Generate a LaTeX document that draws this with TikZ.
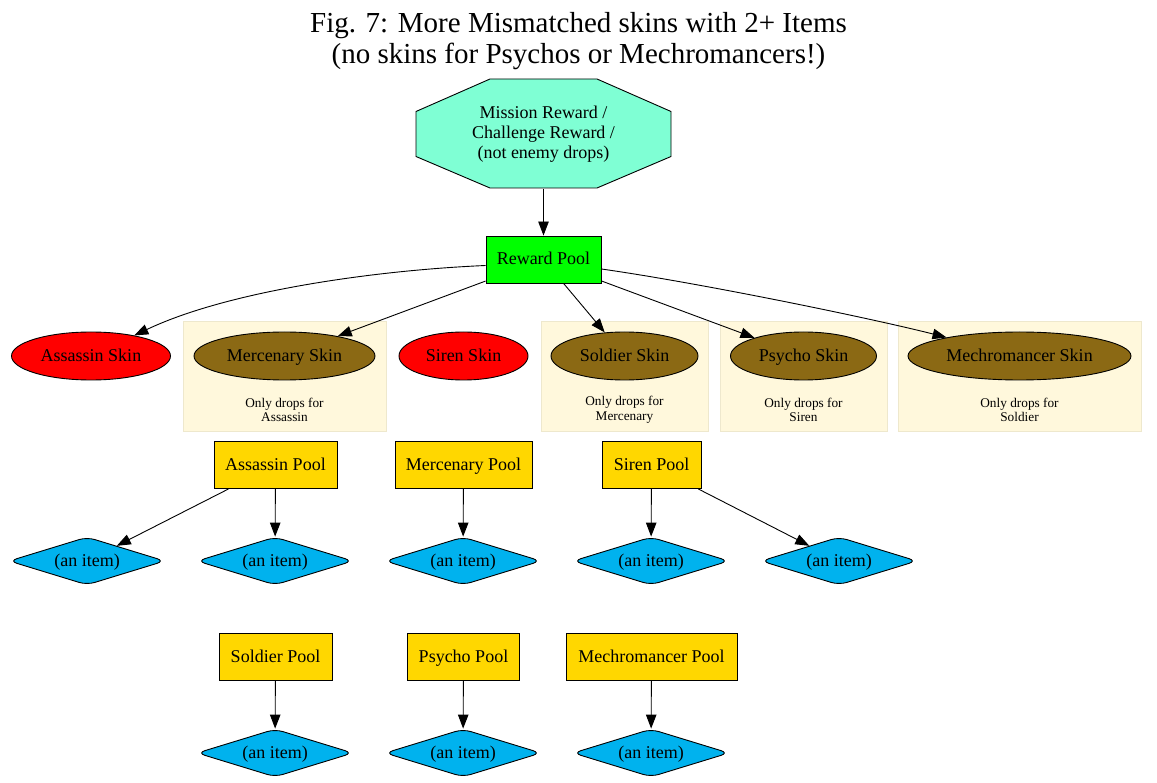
\documentclass[tikz,border=0pt]{standalone}
\usepackage{fontspec}
\setmainfont{Liberation Serif}
\usetikzlibrary{shapes.geometric,arrows.meta,calc}
\definecolor{aquam}{HTML}{7FFFD4}
\definecolor{rwgreen}{HTML}{00FF00}
\definecolor{skinred}{HTML}{FF0000}
\definecolor{skinbrown}{HTML}{8B6914}
\definecolor{poolgold}{HTML}{FFD700}
\definecolor{itemblue}{HTML}{00B2EE}
\definecolor{clfill}{HTML}{FFF8DC}
\definecolor{cldraw}{HTML}{EEE8CD}
\begin{document}
\begin{tikzpicture}[x=1pt,y=-1pt,
  base/.style={font=\fontsize{18}{20}\selectfont, draw=black, line width=0.9pt, inner sep=0pt, align=center, text height=13pt, text depth=2pt},
  skinbox/.style={base, ellipse, minimum height=48},
  poolbox/.style={base, rectangle, fill=poolgold, minimum height=47},
  itembox/.style={base, diamond, aspect=3.3, minimum width=156, minimum height=48, fill=itemblue, rounded corners=8pt},
  clusterbox/.style={fill=clfill, draw=cldraw, line width=0.9pt},
  smalltext/.style={font=\fontsize{13.3}{14.5}\selectfont, align=center, inner sep=0pt},
  arr/.style={-{Triangle[length=14pt,width=10.5pt]}, line width=0.9pt}
]
\useasboundingbox (0,0) rectangle (1157,783);

% title
\node[font=\fontsize{29}{31}\selectfont, align=center, inner sep=0pt] (title) at (578.5,41)
  {Fig. 7: More Mismatched skins with 2+ Items\\(no skins for Psychos or Mechromancers!)};

% octagon
\coordinate (mc) at (543.5,133.5);
\filldraw[fill=aquam, draw=black, line width=0.9pt]
  ($(mc)+(-53.5,-54.5)$) -- ($(mc)+(53.5,-54.5)$) -- ($(mc)+(127.5,-22)$) -- ($(mc)+(127.5,23)$)
  -- ($(mc)+(53.5,54.5)$) -- ($(mc)+(-53.5,54.5)$) -- ($(mc)+(-127.5,23)$) -- ($(mc)+(-127.5,-22)$) -- cycle;
\node[font=\fontsize{18}{20}\selectfont, align=center, inner sep=0pt, minimum width=255, minimum height=109] (mission) at ($(mc)+(0,1)$)
  {Mission Reward /\\Challenge Reward /\\(not enemy drops)};

% reward pool
\node[base, rectangle, fill=rwgreen, minimum width=115, minimum height=47] (reward) at (543.5,259.5) {Reward Pool};

% clusters
\draw[clusterbox] (183,321) rectangle (386,431);
\draw[clusterbox] (541,321) rectangle (708,431);
\draw[clusterbox] (720,321) rectangle (887,431);
\draw[clusterbox] (898,321) rectangle (1141,431);
\node[smalltext] (lmerc) at (284.5,410) {Only drops for\\Assassin};
\node[smalltext] (lsold) at (624.5,410) {Only drops for\\Mercenary};
\node[smalltext] (lpsy) at (803.5,410) {Only drops for\\Siren};
\node[smalltext] (lmech) at (1019.5,410) {Only drops for\\Soldier};

% skins
\node[skinbox, fill=skinred, minimum width=159] (askin) at (91,356) {Assassin Skin};
\node[skinbox, fill=skinbrown, minimum width=181] (mskin) at (284.5,356) {Mercenary Skin};
\node[skinbox, fill=skinred, minimum width=129] (sskin) at (463.5,356) {Siren Skin};
\node[skinbox, fill=skinbrown, minimum width=147] (soskin) at (624.5,356) {Soldier Skin};
\node[skinbox, fill=skinbrown, minimum width=146] (pskin) at (803.5,356) {Psycho Skin};
\node[skinbox, fill=skinbrown, minimum width=223] (meskin) at (1019.5,356) {Mechromancer Skin};

% pools
\node[poolbox, minimum width=123] (apool) at (275.5,465) {Assassin Pool};
\node[poolbox, minimum width=137] (mpool) at (463.5,465) {Mercenary Pool};
\node[poolbox, minimum width=99] (spool) at (651.5,465) {Siren Pool};
\node[poolbox, minimum width=113] (sopool) at (275.5,657) {Soldier Pool};
\node[poolbox, minimum width=112] (ppool) at (463.5,657) {Psycho Pool};
\node[poolbox, minimum width=171] (mepool) at (651.5,657) {Mechromancer Pool};

% items
\node[itembox] (i1) at (87,561) {(an item)};
\node[itembox] (i2) at (275,561) {(an item)};
\node[itembox] (i3) at (463,561) {(an item)};
\node[itembox] (i4) at (651,561) {(an item)};
\node[itembox] (i5) at (839,561) {(an item)};
\node[itembox] (i6) at (275,753) {(an item)};
\node[itembox] (i7) at (463,753) {(an item)};
\node[itembox] (i8) at (651,753) {(an item)};

% edges
\draw[arr] (mission) -- (reward);
\draw[arr] ([yshift=-6pt]reward.west) .. controls (380,270) and (230,290) .. (askin);
\draw[arr] (reward) -- (mskin);
\draw[arr] (reward) -- (soskin);
\draw[arr] (reward) -- (pskin);
\draw[arr] ([yshift=-9.5pt]reward.east) .. controls (700,283) and (870,318) .. (meskin);

\draw[arr] (apool) -- (i1);
\draw[arr] (apool) -- (i2);
\draw[arr] (mpool) -- (i3);
\draw[arr] (spool) -- (i4);
\draw[arr] (spool) -- (i5);
\draw[arr] (sopool) -- (i6);
\draw[arr] (ppool) -- (i7);
\draw[arr] (mepool) -- (i8);
\end{tikzpicture}
\end{document}
